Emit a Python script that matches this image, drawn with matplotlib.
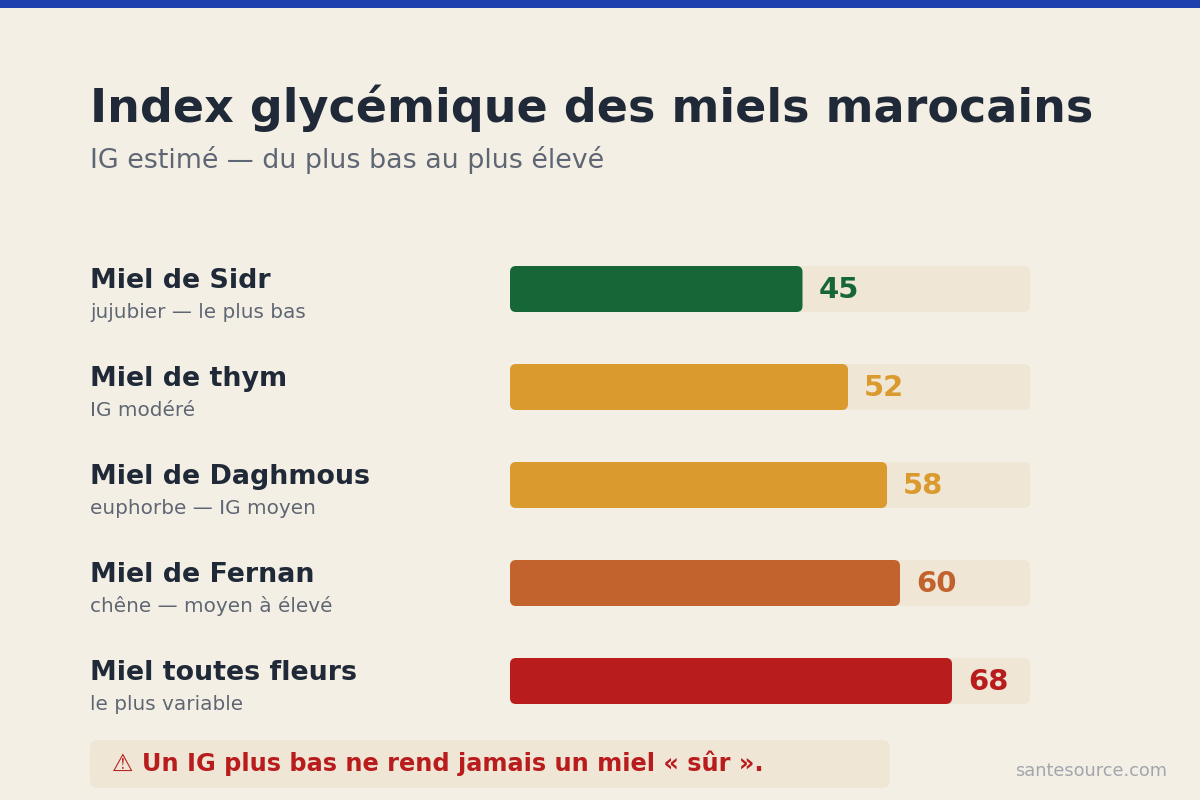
import matplotlib
matplotlib.use("Agg")
import matplotlib.pyplot as plt
from matplotlib.patches import FancyBboxPatch, Rectangle
import matplotlib.transforms as mtransforms

plt.rcParams["font.family"] = ["DejaVu Sans"]

# ---- data ----
names = ["Miel de Sidr", "Miel de thym", "Miel de Daghmous", "Miel de Fernan", "Miel toutes fleurs"]
notes = ["jujubier — le plus bas", "IG modéré", "euphorbe — IG moyen", "chêne — moyen à élevé", "le plus variable"]
ig_values = [45, 52, 58, 60, 68]
bar_colors = ["#176638", "#DA9A2E", "#DA9A2E", "#C2632D", "#B91C1C"]
scale_max = 80

title = "Index glycémique des miels marocains"
subtitle = "IG estimé — du plus bas au plus élevé"
footnote = "⚠ Un IG plus bas ne rend jamais un miel « sûr »."
source = "santesource.com"

BG = "#F4EFE4"
TRACK = "#EFE6D6"
DARK = "#1F2937"
GREY = "#5F6673"

W, H = 1200, 800
fig = plt.figure(figsize=(W / 100, H / 100), dpi=100)
fig.patch.set_facecolor(BG)

# background/decor axes in pixel coordinates
bg = fig.add_axes([0, 0, 1, 1])
bg.set_xlim(0, W)
bg.set_ylim(H, 0)
bg.axis("off")
bg.add_patch(Rectangle((0, 0), W, 8, color="#1E40AF", lw=0))
bg.add_patch(FancyBboxPatch((90, 740), 800, 48, boxstyle="round,pad=0,rounding_size=8",
                            fc=TRACK, ec="none"))
bg.text(112, 771, footnote, fontsize=17.3, fontweight="bold", color="#B91C1C", va="baseline")
bg.text(1167, 776, source, fontsize=12.8, color="#A3A6AD", ha="right", va="baseline")
bg.text(90, 122, title, fontsize=33.1, fontweight="bold", color=DARK, va="baseline")
bg.text(90, 168, subtitle, fontsize=19.4, color=GREY, va="baseline")

# bars axes
row_px = 98
top_px, n = 240, len(names)
ax = fig.add_axes([510 / W, 1 - (top_px + n * row_px) / H, 520 / W, n * row_px / H])
ax.set_xlim(0, scale_max)
ax.set_ylim(n - 0.5, -0.5)
ax.axis("off")
ax.patch.set_visible(False)

px_x = 520 / scale_max  # pixels per x unit
bar_h = 46 / row_px
r = 6 / px_x
aspect = px_x / row_px

for i, (v, c) in enumerate(zip(ig_values, bar_colors)):
    ax.add_patch(FancyBboxPatch((0, i - bar_h / 2), scale_max, bar_h,
                                boxstyle=f"round,pad=0,rounding_size={r}",
                                mutation_aspect=aspect, fc=TRACK, ec="none"))
    ax.add_patch(FancyBboxPatch((0, i - bar_h / 2), v, bar_h,
                                boxstyle=f"round,pad=0,rounding_size={r}",
                                mutation_aspect=aspect, fc=c, ec="none"))
    ax.text(v + 16 / px_x, i + 9 / row_px, str(v), fontsize=21, fontweight="bold",
            color=c, va="baseline", ha="left")

trans = mtransforms.blended_transform_factory(fig.transFigure, ax.transData)
for i, (nm, nt) in enumerate(zip(names, notes)):
    ax.text(90 / W, i - 1 / row_px, nm, transform=trans, fontsize=19.4, fontweight="bold",
            color=DARK, va="baseline", ha="left")
    ax.text(90 / W, i + 29 / row_px, nt, transform=trans, fontsize=14.4,
            color=GREY, va="baseline", ha="left")

fig.savefig("out.png", dpi=100, facecolor=BG)
